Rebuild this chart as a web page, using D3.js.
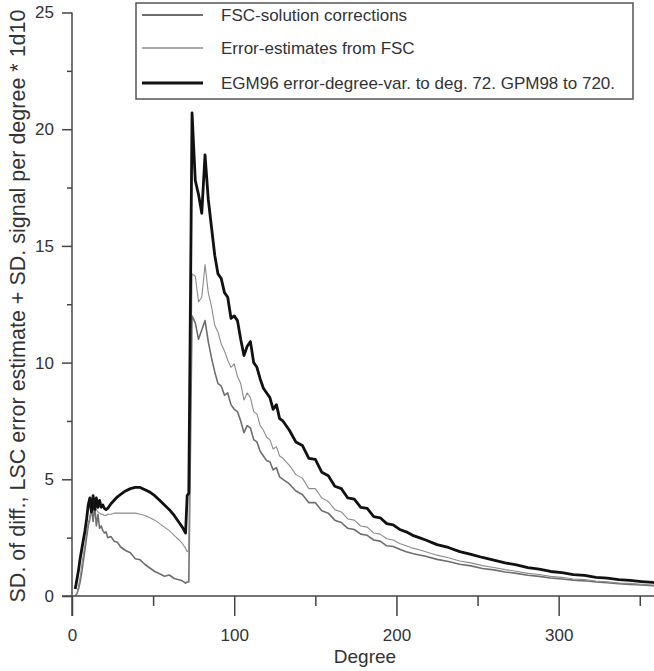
<!DOCTYPE html>
<html>
<head>
<meta charset="utf-8">
<script src="https://cdnjs.cloudflare.com/ajax/libs/d3/7.8.5/d3.min.js"></script>
<style>
  body { margin: 0; background: #fff; }
  svg { display: block; font-family: "Liberation Sans", Arial, sans-serif; }
  .axis path, .axis line { stroke: #444; stroke-width: 1.5; }
  .axis text { fill: #333; font-size: 17px; }
</style>
</head>
<body>
<script>
var degrees = [2,3,4,5,6,7,8,9,10,11,12,13,14,15,16,17,18,19,20,21,22,24,26,28,30,33,36,39,42,45,48,51,54,57,60,63,66,68,70,71,72,
  74,76,78,80,82,84,86,88,90,92,94,96,98,100,102,104,106,108,110,112,114,116,118,120,122,124,126,128,130,
  134,138,142,146,150,154,158,162,166,170,174,178,182,186,190,194,198,202,206,210,214,218,
  225,232,239,246,253,260,267,274,281,288,295,302,309,316,323,330,337,344,351,358,362];

//FSC-solution corrections
var fscCorr = [0.0,0.1,0.3,0.6,1.0,1.5,2.0,2.5,3.0,3.3,3.8,3.2,3.9,3.0,3.5,2.9,3.0,2.8,2.7,2.75,2.5,2.55,2.35,2.3,2.1,1.95,1.85,1.6,1.55,1.35,1.2,1.05,0.95,0.85,0.9,0.75,0.7,0.65,0.55,0.6,0.6,
  12.0,11.7,11.0,11.4,11.8,10.9,10.2,9.6,9.1,9.0,8.6,8.7,8.2,8.0,7.9,7.5,7.0,7.3,7.2,6.7,6.6,6.2,6.0,5.8,5.75,5.4,5.5,5.1,5.0,
  4.8,4.5,4.35,4.0,4.0,3.65,3.55,3.25,3.15,2.9,2.85,2.65,2.6,2.4,2.35,2.15,2.12,2.0,1.9,1.82,1.76,1.7,
  1.57,1.48,1.36,1.29,1.18,1.12,1.03,0.97,0.89,0.84,0.77,0.73,0.68,0.65,0.6,0.57,0.53,0.5,0.47,0.44,0.43];

//Error-estimates from FSC
var fscErr = [0.0,0.1,0.4,0.8,1.3,1.8,2.2,2.7,3.1,3.4,3.6,3.8,3.9,3.7,3.6,3.55,3.5,3.5,3.45,3.45,3.5,3.5,3.55,3.55,3.55,3.55,3.55,3.55,3.5,3.45,3.35,3.25,3.1,2.95,2.8,2.6,2.4,2.25,2.05,1.9,1.95,
  13.8,13.7,12.6,12.8,14.2,13.0,12.4,11.6,11.3,10.8,10.5,10.1,9.8,9.95,9.4,9.1,8.4,8.7,8.5,7.9,7.8,7.3,7.1,6.8,6.7,6.3,6.4,6.0,5.9,
  5.6,5.2,5.05,4.6,4.6,4.2,4.05,3.7,3.6,3.3,3.25,3.0,2.95,2.7,2.65,2.45,2.4,2.25,2.15,2.05,1.98,1.9,
  1.75,1.64,1.5,1.42,1.3,1.22,1.13,1.06,0.97,0.92,0.84,0.8,0.73,0.7,0.64,0.61,0.56,0.54,0.5,0.47,0.45];

//EGM96 error degree variances to 72, GPM98 signal to 720
var egm96 = [0.3,0.7,1.1,1.6,2.0,2.4,2.8,3.3,3.9,4.2,3.6,4.3,3.7,4.2,3.8,4.1,3.8,3.9,3.75,3.7,3.75,3.95,4.1,4.25,4.35,4.5,4.6,4.65,4.65,4.55,4.45,4.3,4.1,3.9,3.7,3.45,3.15,2.95,2.7,4.3,4.4,
  20.7,17.8,17.2,16.4,18.9,17.0,15.8,14.6,13.8,13.6,13.0,12.8,11.9,12.0,11.8,11.0,10.3,10.7,10.9,10.0,9.8,9.3,8.9,8.7,8.5,8.0,8.2,7.6,7.5,
  7.1,6.6,6.45,5.9,5.85,5.3,5.15,4.7,4.6,4.2,4.15,3.8,3.75,3.4,3.35,3.1,3.05,2.85,2.75,2.6,2.5,2.4,
  2.2,2.08,1.9,1.78,1.65,1.54,1.42,1.33,1.22,1.15,1.05,1.0,0.92,0.88,0.8,0.77,0.7,0.67,0.62,0.58,0.56];

var xMajor = [0, 100, 200, 300],
  xMinor = [50, 150, 250, 350],
  yMajor = [0, 5, 10, 15, 20, 25],
  yMinor = [2.5, 7.5, 12.5, 17.5, 22.5];

var legendLabels = ["FSC-solution corrections", "Error-estimates from FSC", "EGM96 error-degree-var. to deg. 72. GPM98 to 720."];

(function all (){
  var width = 654,
  height = 671;

  var svg = d3.select("body")
    .append("svg")
    .attr("width", width)
    .attr("height", height);

  //scales, the x axis runs off the right edge of the picture
  var x = d3.scaleLinear().domain([0, 360]).range([72, 656]);
  var y = d3.scaleLinear().domain([0, 25]).range([596, 12.5]);

  svg.append("clipPath")
    .attr("id", "plot")
    .append("rect")
    .attr("x", 72).attr("y", 0)
    .attr("width", width - 72).attr("height", 600);

  //series styles
  var series = [
    {values: fscCorr, color: "#6e6e6e", w: 1.6},
    {values: fscErr, color: "#8c8c8c", w: 1.1},
    {values: egm96, color: "#111", w: 2.8}
  ];

  var line = d3.line()
    .x(function(d){ return x(d[0]); })
    .y(function(d){ return y(d[1]); });

  svg.append("g")
    .attr("clip-path", "url(#plot)")
    .selectAll("path")
    .data(series)
    .enter()
    .append("path")
    .attr("fill", "none")
    .attr("stroke", function(d){ return d.color; })
    .attr("stroke-width", function(d){ return d.w; })
    .attr("stroke-linejoin", "round")
    .attr("d", function(d){
      return line(degrees.map(function(g, i){ return [g, d.values[i]]; }));
    });

  //x axis, major ticks with labels then minor ones
  var xAxis = svg.append("g")
    .attr("class", "axis")
    .attr("transform", "translate(0,596)")
    .call(d3.axisBottom(x).tickValues(xMajor).tickSize(20).tickPadding(13).tickSizeOuter(0));
  xAxis.select(".domain").attr("d", "M62,0H" + width);
  svg.append("g")
    .attr("class", "axis")
    .attr("transform", "translate(0,596)")
    .call(d3.axisBottom(x).tickValues(xMinor).tickSize(10).tickFormat(""))
    .select(".domain").remove();

  //y axis
  svg.append("g")
    .attr("class", "axis")
    .attr("transform", "translate(72,0)")
    .call(d3.axisLeft(y).tickValues(yMajor).tickSize(10).tickPadding(8).tickSizeOuter(0))
    .select(".domain").attr("d", "M0," + y(25) + "V616");
  svg.append("g")
    .attr("class", "axis")
    .attr("transform", "translate(72,0)")
    .call(d3.axisLeft(y).tickValues(yMinor).tickSize(5).tickFormat(""))
    .select(".domain").remove();

  //axis titles
  svg.append("text")
    .attr("x", 365).attr("y", 663)
    .attr("text-anchor", "middle")
    .attr("fill", "#333")
    .style("font-size", "19px")
    .text("Degree");

  var yTitle = svg.append("text")
    .attr("transform", "translate(25,306) rotate(-90)")
    .attr("text-anchor", "middle")
    .attr("fill", "#333")
    .style("font-size", "17px")
    .text("SD. of diff., LSC error estimate + SD. signal per degree * 1d10");
  //fit the title to the height it spans in the figure
  var len = yTitle.node().getComputedTextLength();
  yTitle.style("font-size", (17 * 593 / len) + "px");

  //legend
  var legend = svg.append("g");
  legend.append("rect")
    .attr("x", 136).attr("y", 3)
    .attr("width", 497).attr("height", 96)
    .attr("fill", "#fff")
    .attr("stroke", "#555")
    .attr("stroke-width", 1.5);

  var rows = legend.selectAll(".row")
    .data(series)
    .enter()
    .append("g")
    .attr("class", "row")
    .attr("transform", function(d, i){ return "translate(0," + [15, 48, 83][i] + ")"; });
  rows.append("line")
    .attr("x1", 142).attr("x2", 203)
    .attr("stroke", function(d){ return d.color; })
    .attr("stroke-width", function(d){ return d.w + 0.4; });
  rows.append("text")
    .attr("x", 221).attr("y", 6)
    .attr("fill", "#333")
    .style("font-size", "17px")
    .text(function(d, i){ return legendLabels[i]; });
})();
</script>
</body>
</html>
